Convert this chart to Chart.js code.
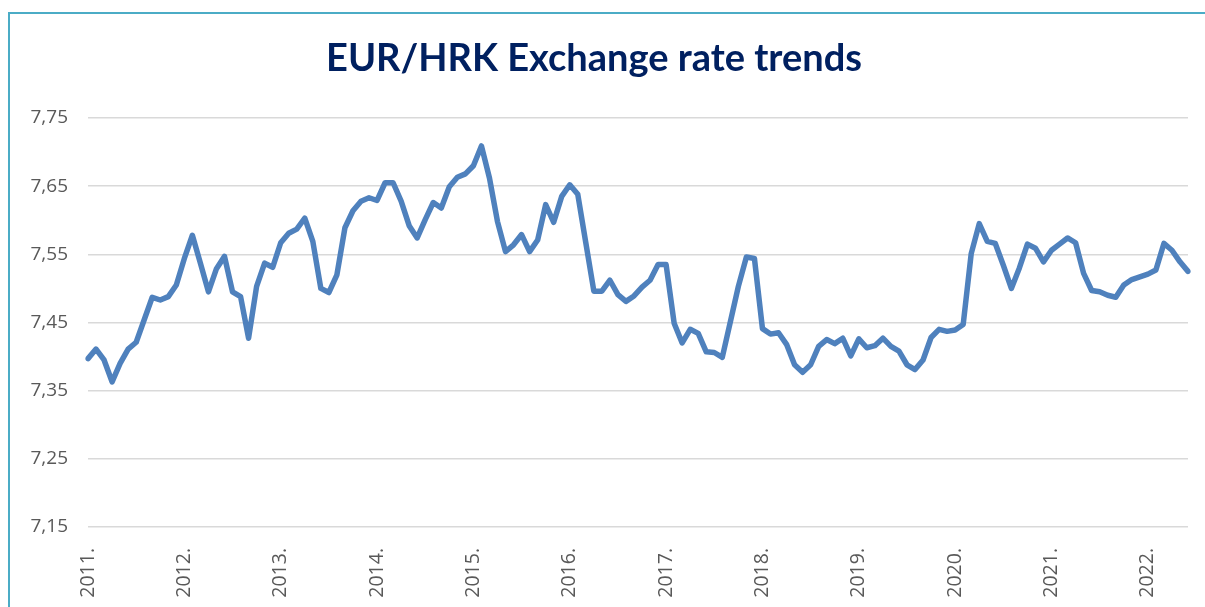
<!DOCTYPE html>
<html>
<head>
<meta charset="utf-8">
<title>EUR/HRK Exchange rate trends</title>
<script src="https://cdn.jsdelivr.net/npm/chart.js@4.4.1/dist/chart.umd.min.js"></script>
<style>
  html, body { margin: 0; padding: 0; background: #fff; overflow: hidden; }
  #wrap { position: relative; width: 1205px; height: 607px; }
  #frame { position: absolute; left: 8px; top: 12px; width: 1300px; height: 700px;
           border-left: 2px solid #4bacc6; border-top: 2px solid #4bacc6; }
  #rateChart { position: absolute; left: 0; top: 0; }
</style>
</head>
<body>
<div id="wrap">
  <div id="frame"></div>
  <canvas id="rateChart" width="1205" height="607"></canvas>
</div>
<script>
// monthly average EUR/HRK, Jan 2011 - Jun 2022
const yearLabels = ['2011.', '2012.', '2013.', '2014.', '2015.', '2016.',
                    '2017.', '2018.', '2019.', '2020.', '2021.', '2022.'];

const rates = [
  7.397, 7.411, 7.395, 7.363, 7.390, 7.411, 7.421, 7.454, 7.487, 7.483, 7.488, 7.505, // 2011
  7.544, 7.578, 7.537, 7.495, 7.529, 7.547, 7.495, 7.488, 7.427, 7.503, 7.537, 7.531, // 2012
  7.567, 7.581, 7.587, 7.603, 7.569, 7.500, 7.494, 7.520, 7.589, 7.614, 7.628, 7.633, // 2013
  7.629, 7.655, 7.655, 7.628, 7.592, 7.574, 7.601, 7.626, 7.618, 7.649, 7.663, 7.668, // 2014
  7.680, 7.709, 7.662, 7.598, 7.554, 7.564, 7.579, 7.554, 7.571, 7.623, 7.597, 7.635, // 2015
  7.652, 7.638, 7.567, 7.496, 7.496, 7.512, 7.491, 7.481, 7.489, 7.502, 7.512, 7.535, // 2016
  7.535, 7.449, 7.420, 7.440, 7.434, 7.407, 7.406, 7.399, 7.451, 7.503, 7.546, 7.544, // 2017
  7.441, 7.433, 7.435, 7.418, 7.388, 7.377, 7.388, 7.415, 7.425, 7.419, 7.427, 7.401, // 2018
  7.426, 7.413, 7.416, 7.427, 7.415, 7.408, 7.388, 7.381, 7.395, 7.428, 7.440, 7.437, // 2019
  7.439, 7.447, 7.551, 7.595, 7.569, 7.566, 7.534, 7.500, 7.530, 7.565, 7.559, 7.539, // 2020
  7.556, 7.565, 7.574, 7.567, 7.522, 7.497, 7.495, 7.490, 7.487, 7.505, 7.513, 7.517, // 2021
  7.521, 7.527, 7.566, 7.556, 7.539, 7.525                                             // 2022
];

const yTicks = [7.15, 7.25, 7.35, 7.45, 7.55, 7.65, 7.75];

// one category per month, year label on each January
const labels = rates.map((v, i) => (i % 12 === 0 ? yearLabels[i / 12] : ''));

const ctx = document.getElementById('rateChart');

new Chart(ctx, {
    type: 'line',
    data: {
        labels: labels,
        datasets: [{
            label: 'EUR/HRK',
            data: rates,
            borderColor: '#4f81bd',
            borderWidth: 5.5,
            borderJoinStyle: 'round',
            borderCapStyle: 'round',
            pointRadius: 0,
            tension: 0,
            fill: false
        }]
    },
    options: {
        responsive: false,
        animation: false,
        layout: { padding: { left: 0, right: 17, top: 0, bottom: 0 } },
        plugins: {
            legend: { display: false },
            tooltip: { enabled: false },
            title: {
                display: true,
                text: 'EUR/HRK Exchange rate trends',
                color: '#002060',
                font: { family: 'Lato', size: 38, weight: 'bold' },
                padding: { top: 36, bottom: 36.4 }
            }
        },
        scales: {
            x: {
                offset: false,
                grid: { display: false },
                border: { display: false },
                ticks: {
                    autoSkip: false,
                    minRotation: 90,
                    maxRotation: 90,
                    padding: 13,
                    color: '#595959',
                    font: { family: 'Open Sans', size: 19.5 }
                },
                afterFit: s => { s.height = 80; s.paddingLeft = 0; s.paddingRight = 0; }
            },
            y: {
                min: 7.15,
                max: 7.75,
                afterBuildTicks: s => { s.ticks = yTicks.map(v => ({ value: v })); },
                grid: { color: '#d9d9d9', lineWidth: 1.5, drawTicks: false },
                border: { display: false },
                ticks: {
                    padding: 20,
                    color: '#595959',
                    font: { family: 'Open Sans', size: 19 },
                    callback: v => v.toFixed(2).replace('.', ',')
                },
                afterFit: s => { s.width = 88; }
            }
        }
    }
});
</script>
</body>
</html>
